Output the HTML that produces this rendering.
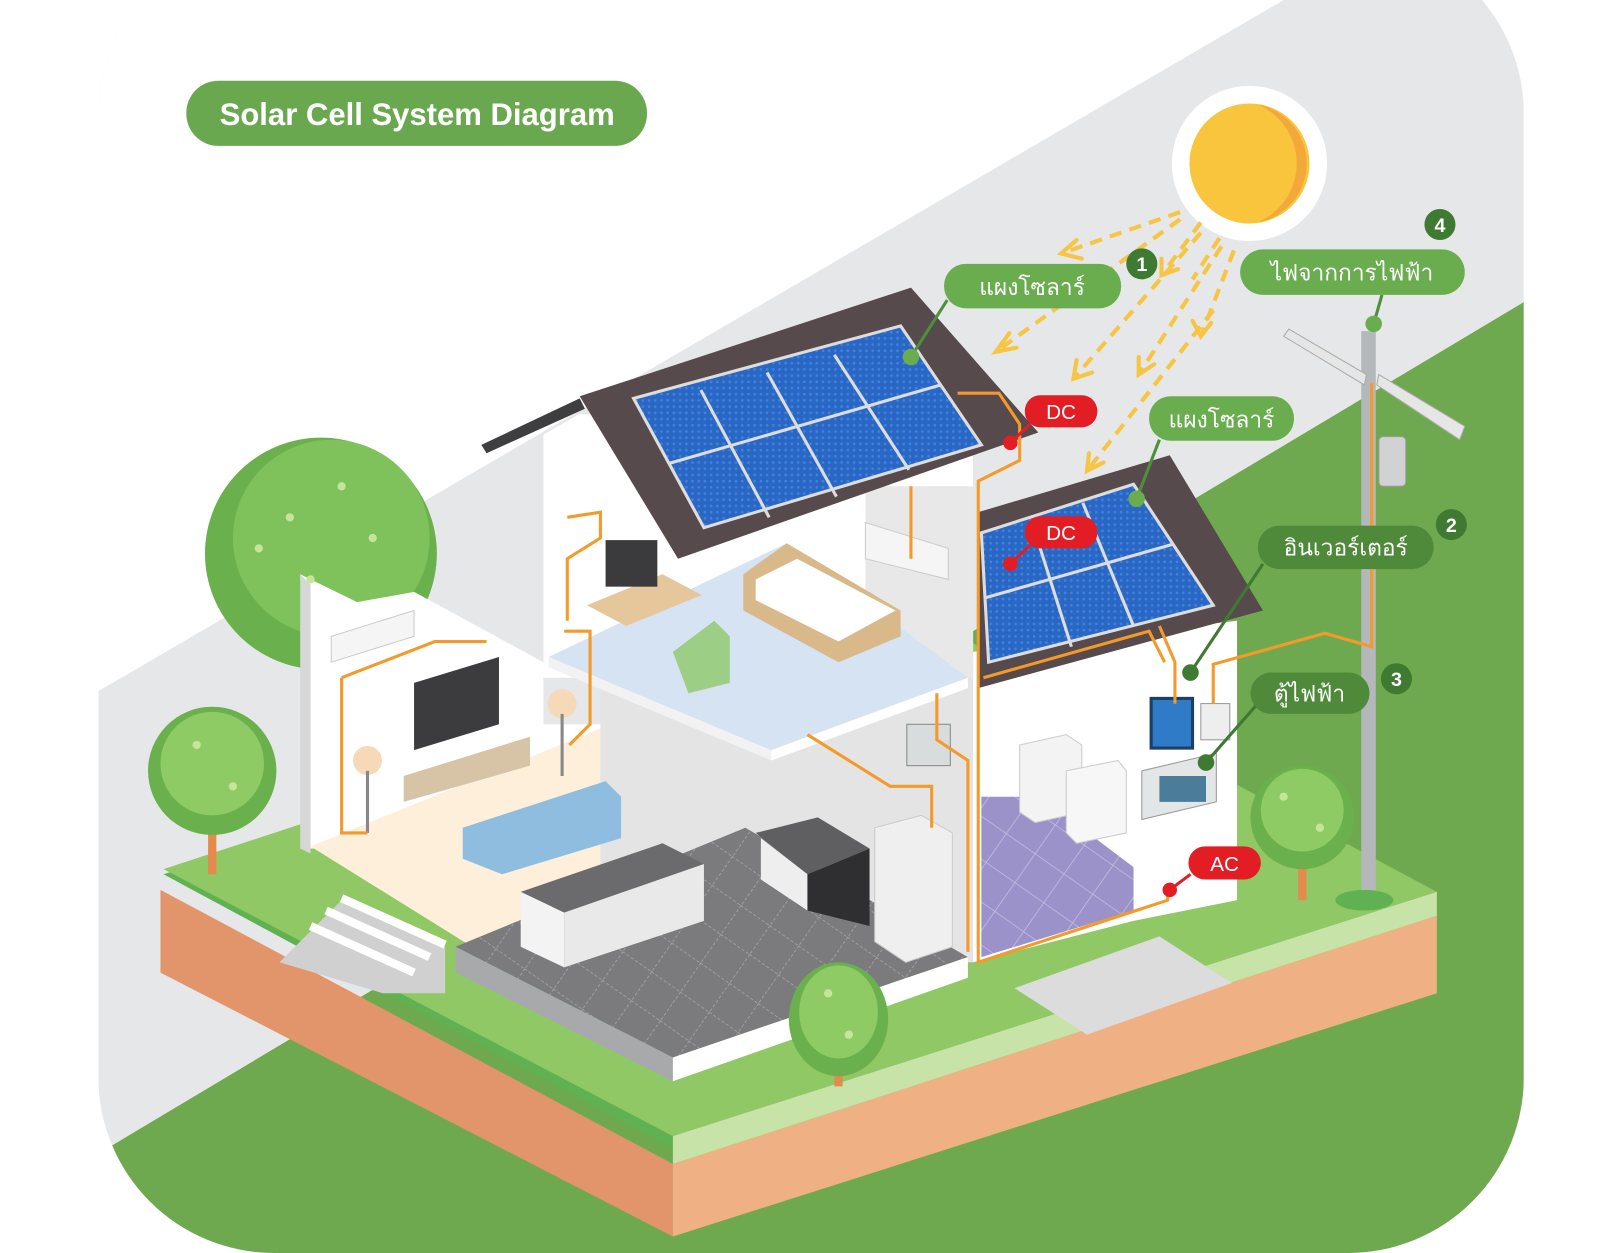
<!DOCTYPE html>
<html><head><meta charset="utf-8"><style>
html,body{margin:0;padding:0;background:#fff}
svg{display:block}
text{font-family:"Liberation Sans","DejaVu Sans",sans-serif}
</style></head><body>
<svg width="1618" height="1253" viewBox="0 0 1563 1211" preserveAspectRatio="none" xmlns="http://www.w3.org/2000/svg">
<defs>
<clipPath id="bg"><rect x="95" y="-60" width="1377" height="1271" rx="170"/></clipPath>
<pattern id="tileK" width="34" height="34" patternUnits="userSpaceOnUse" patternTransform="rotate(35)"><rect width="34" height="34" fill="#7b7b7d"/><path d="M0 0H34M0 0V34" stroke="#aaa" stroke-width="1.5" stroke-dasharray="3 2"/></pattern>
<pattern id="tileP" width="34" height="34" patternUnits="userSpaceOnUse" patternTransform="rotate(35)"><rect width="34" height="34" fill="#9b92c9"/><path d="M0 0H34M0 0V34" stroke="#c4bfe2" stroke-width="1.5"/></pattern>
<pattern id="cell" width="6" height="6" patternUnits="userSpaceOnUse"><rect width="6" height="6" fill="#2a67c4"/><circle cx="3" cy="3" r="1.3" fill="#3f84dc"/></pattern>
</defs>
<g clip-path="url(#bg)">
<rect x="95" y="-60" width="1377" height="1271" fill="#e6e7e8"/>
<polygon points="0,-60 1240,-60 1240,0 95,668 0,668" fill="#fff"/>
<polygon points="95,1115 1472,292 1472,1211 95,1211" fill="#6fa94f"/>
</g>
<!-- soil -->
<polygon points="155,860 650,1125 650,1195 155,940" fill="#e2956a"/>
<polygon points="650,1125 1388,885 1388,960 650,1195" fill="#efb183"/>
<!-- top ground -->
<polygon points="158,845 896,605 1388,870 650,1110" fill="#5fb152"/>
<polygon points="158,840 896,598 1388,862 650,1098" fill="#8fc865"/>
<polygon points="650,1098 1388,862 1388,885 650,1125" fill="#c7e3a8"/>
<!-- path at right -->
<polygon points="980,955 1120,905 1190,950 1050,1000" fill="#dcdcdc"/>
<!-- big tree left -->
<circle cx="310" cy="535" r="112" fill="#6ab04c"/><circle cx="320" cy="520" r="95" fill="#7fc15a"/>
<!-- house: living room -->
<polygon points="290,555 345,582 400,572 525,640 525,700 590,700 590,820 300,820" fill="#fff"/>
<polygon points="290,555 290,820 300,825 300,565" fill="#d7d7d7"/>
<polygon points="300,818 590,700 760,800 480,930" fill="#fdefd9"/>
<!-- steps -->
<polygon points="270,930 330,870 430,915 430,960 370,960" fill="#d0d0d0"/>
<path d="M300,895 L400,940 M315,880 L415,925 M330,868 L430,913" stroke="#fff" stroke-width="8"/>
<!-- kitchen -->
<polygon points="580,655 940,655 940,930 580,930" fill="#e4e4e4"/>
<polygon points="440,915 720,800 935,925 650,1022" fill="url(#tileK)"/>
<polygon points="440,915 650,1022 650,1045 440,940" fill="#a7a9ab"/>
<polygon points="650,1022 935,925 935,945 650,1045" fill="#fff"/>
<!-- upper floor / bedroom -->
<polygon points="525,420 560,400 940,430 940,655 525,655" fill="#fff"/>
<polygon points="836,470 940,470 940,655 836,655" fill="#e8e8e8"/>
<polygon points="530,635 760,525 935,655 745,725" fill="#d6e3f2"/>
<polygon points="530,635 745,725 745,735 530,645" fill="#f2f2f2"/>
<polygon points="745,725 935,655 935,665 745,735" fill="#fff"/>
<!-- bed -->
<polygon points="718,555 760,525 870,590 870,615 810,640 718,590" fill="#d9b98a"/>
<polygon points="730,560 770,540 865,590 810,620 730,580" fill="#fff"/>
<!-- desk, monitor, chair -->
<polygon points="567,585 640,555 678,575 605,605" fill="#e6c79b"/>
<rect x="585" y="522" width="50" height="45" fill="#3b3b3d"/>
<polygon points="650,630 690,600 705,615 705,660 665,670" fill="#9ccf85"/>
<!-- AC units -->
<polygon points="836,505 916,530 916,560 836,540" fill="#f5f5f5" stroke="#ccc"/>
<polygon points="320,615 400,590 400,615 320,640" fill="#f5f5f5" stroke="#ccc"/>
<!-- TV, cabinet, sofa, lamps -->
<polygon points="400,660 482,635 482,700 400,725" fill="#3c3c3e"/>
<polygon points="390,750 512,712 512,740 390,775" fill="#d7c3a6"/>
<polygon points="447,800 585,755 600,770 600,810 485,845 447,830" fill="#8fbde0"/>
<circle cx="355" cy="735" r="14" fill="#f6d9b6"/><line x1="355" y1="745" x2="355" y2="805" stroke="#888" stroke-width="3"/>
<circle cx="543" cy="680" r="14" fill="#f6d9b6"/><line x1="543" y1="690" x2="543" y2="750" stroke="#888" stroke-width="3"/>
<!-- kitchen counter -->
<polygon points="503,862 640,815 680,835 545,882" fill="#6b6b6d"/>
<polygon points="503,862 545,882 545,935 503,915" fill="#f3f3f3"/>
<polygon points="545,882 680,835 680,890 545,935" fill="#e9e9e9"/>
<polygon points="730,805 790,790 840,820 780,845" fill="#5f5f61"/>
<polygon points="735,810 780,845 780,880 735,850" fill="#eee"/>
<polygon points="780,845 840,820 840,895 780,880" fill="#2f2f31"/>
<polygon points="845,800 890,788 920,805 920,915 875,930 845,910" fill="#efefef" stroke="#ccc"/>
<rect x="876" y="700" width="42" height="40" fill="#d9dcdc" stroke="#888"/>
<!-- roof 1 -->
<polygon points="465,430 560,385 565,395 470,438" fill="#3e3e40"/>
<polygon points="560,383 880,278 1003,418 655,540" fill="#574a4c"/>
<polygon points="612,385 870,315 948,430 680,510" fill="url(#cell)" stroke="#ddd" stroke-width="3"/>
<path d="M646,448 L909,372 M677,377 L743,500 M741,360 L808,480 M806,343 L878,454" stroke="#ddd" stroke-width="3"/>
<!-- right wing -->
<polygon points="940,630 1195,600 1195,870 1095,890 940,930" fill="#fff"/>
<polygon points="948,770 1005,770 1095,838 1095,880 948,925" fill="url(#tileP)"/>
<polygon points="985,720 1030,710 1045,720 1045,785 1000,795 985,785" fill="#f3f3f3" stroke="#ccc"/>
<polygon points="1030,745 1080,735 1088,745 1088,805 1040,815 1030,805" fill="#f7f7f7" stroke="#ccc"/>
<polygon points="945,495 1130,440 1220,590 945,665" fill="#574a4c"/>
<polygon points="948,515 1095,468 1172,585 955,640" fill="url(#cell)" stroke="#ddd" stroke-width="3"/>
<path d="M951,578 L1133,526 M996,502 L1035,625 M1046,486 L1095,605" stroke="#ddd" stroke-width="3"/>
<!-- inverter & panel -->
<rect x="1112" y="675" width="40" height="48" fill="#2f7bc8" stroke="#1d3f66" stroke-width="3"/>
<rect x="1160" y="680" width="28" height="35" fill="#eee" stroke="#999"/>
<polygon points="1103,745 1175,728 1175,775 1103,792" fill="#e3e6e6" stroke="#999"/>
<rect x="1120" y="750" width="45" height="25" fill="#4b7c99"/>
<!-- trees -->
<g>
<line x1="205" y1="790" x2="205" y2="845" stroke="#e58a4d" stroke-width="8"/>
<circle cx="205" cy="745" r="62" fill="#6ab04c"/><circle cx="205" cy="738" r="50" fill="#8fcb64"/>
<line x1="1258" y1="820" x2="1258" y2="870" stroke="#e58a4d" stroke-width="8"/>
<circle cx="1258" cy="790" r="50" fill="#6ab04c"/><circle cx="1258" cy="783" r="40" fill="#8fcb64"/>
<line x1="810" y1="1010" x2="810" y2="1050" stroke="#e58a4d" stroke-width="8"/>
<ellipse cx="810" cy="985" rx="48" ry="55" fill="#6ab04c"/><ellipse cx="810" cy="978" rx="38" ry="45" fill="#8fcb64"/>
</g>
<g fill="#c7e59a"><circle cx="280" cy="500" r="4"/><circle cx="330" cy="470" r="4"/><circle cx="360" cy="520" r="4"/><circle cx="300" cy="560" r="4"/><circle cx="250" cy="530" r="4"/><circle cx="190" cy="720" r="4"/><circle cx="225" cy="760" r="4"/><circle cx="1240" cy="770" r="4"/><circle cx="1275" cy="800" r="4"/><circle cx="800" cy="960" r="4"/><circle cx="820" cy="1000" r="4"/></g>
<!-- utility pole -->
<rect x="1315" y="320" width="14" height="550" fill="#b5b8ba"/>
<polygon points="1240,325 1245,318 1320,362 1318,372" fill="#e6e6e6" stroke="#aaa"/>
<polygon points="1330,372 1332,362 1415,412 1410,425" fill="#e6e6e6" stroke="#aaa"/>
<rect x="1332" y="422" width="26" height="48" rx="4" fill="#d0d2d3" stroke="#999"/>
<ellipse cx="1318" cy="870" rx="28" ry="10" fill="#5fb152"/>
<!-- wires -->
<g fill="none" stroke="#f39a2b" stroke-width="3">
<path d="M925,380 L965,380 L985,410 L985,445 L945,465 L945,930 L1128,870 L1128,860"/>
<path d="M1120,605 L1135,640 L1135,680"/>
<path d="M950,655 L1110,610 L1125,640"/>
<path d="M1325,370 L1325,625 L1280,612 L1172,642 L1172,680"/>
<path d="M880,470 L880,540 M780,710 L860,760 L900,760 L900,800"/>
<path d="M330,655 L330,805 L355,805 M330,655 L420,620 L470,620 M545,610 L570,610 L570,700 L550,720"/>
<path d="M905,670 L905,715 L935,735 L935,920"/>
<path d="M548,500 L580,495 L580,520 L548,540 L548,600"/>
</g>
<!-- sun -->
<circle cx="1207" cy="158" r="75" fill="#fff"/>
<circle cx="1207" cy="158" r="58" fill="#f8c53c"/>
<path d="M1215,101 A58,58 0 0 1 1215,215 A62,62 0 0 0 1215,101Z" fill="#f3a83a"/>
<!-- rays -->
<g stroke="#f7c544" stroke-width="4" stroke-dasharray="12 8" fill="none">
<path d="M1140,205 L1025,245"/><path d="M1140,212 L962,340"/><path d="M1160,215 L1122,266"/><path d="M1160,225 L1037,366"/><path d="M1178,230 L1152,270"/><path d="M1180,238 L1100,362"/><path d="M1192,242 L1160,325"/><path d="M1172,300 L1050,455"/>
</g>
<g stroke="#f7c544" stroke-width="4" fill="none" stroke-linecap="round">
<path d="M1040,232 L1025,245 L1045,250"/><path d="M975,322 L962,340 L982,336"/><path d="M1122,250 L1122,266 L1138,260"/><path d="M1040,348 L1037,366 L1055,360"/><path d="M1100,345 L1100,362 L1115,352"/><path d="M1152,310 L1160,325 L1170,312"/><path d="M1052,438 L1050,455 L1066,447"/>
</g>
<!-- title -->
<rect x="180" y="78" width="445" height="63" rx="31" fill="#6aa84f"/>
<text x="403" y="121" font-size="30" font-weight="bold" fill="#fff" text-anchor="middle">Solar Cell System Diagram</text>
<!-- labels -->
<g stroke-width="3" fill="none">
<path d="M915,290 L880,345" stroke="#4d8f3b"/>
<path d="M1335,285 L1327,313" stroke="#4d8f3b"/>
<path d="M1120,425 L1098,482" stroke="#4d8f3b"/>
<path d="M1220,545 L1150,650" stroke="#3f7a33"/>
<path d="M1215,680 L1165,737" stroke="#3f7a33"/>
<path d="M995,410 L976,428" stroke="#e31d24"/><path d="M995,527 L976,545" stroke="#e31d24"/><path d="M1150,845 L1130,860" stroke="#e31d24"/>
</g>
<g fill="#6aad4f"><circle cx="880" cy="345" r="8"/><circle cx="1327" cy="313" r="8"/><circle cx="1098" cy="482" r="8"/></g>
<g fill="#3f7a33"><circle cx="1150" cy="650" r="8"/><circle cx="1165" cy="737" r="8"/></g>
<g fill="#e31d24"><circle cx="976" cy="428" r="7"/><circle cx="976" cy="545" r="7"/><circle cx="1130" cy="860" r="7"/></g>
<rect x="912" y="255" width="171" height="43" rx="21" fill="#6aad4f"/>
<text x="997" y="285" font-size="22" fill="#fff" text-anchor="middle">แผงโซลาร์</text>
<rect x="1198" y="241" width="217" height="44" rx="22" fill="#6aad4f"/>
<text x="1306" y="271" font-size="22" fill="#fff" text-anchor="middle">ไฟจากการไฟฟ้า</text>
<rect x="1110" y="383" width="140" height="43" rx="21" fill="#6aad4f"/>
<text x="1180" y="413" font-size="22" fill="#fff" text-anchor="middle">แผงโซลาร์</text>
<rect x="1215" y="508" width="170" height="42" rx="21" fill="#4e8a3a"/>
<text x="1300" y="537" font-size="22" fill="#fff" text-anchor="middle">อินเวอร์เตอร์</text>
<rect x="1208" y="650" width="115" height="40" rx="20" fill="#4e8a3a"/>
<text x="1265" y="678" font-size="22" fill="#fff" text-anchor="middle">ตู้ไฟฟ้า</text>
<g fill="#3f7a33"><circle cx="1103" cy="255" r="15"/><circle cx="1391" cy="217" r="15"/><circle cx="1402" cy="507" r="15"/><circle cx="1349" cy="656" r="15"/></g>
<g fill="#fff" font-size="19" font-weight="bold" text-anchor="middle"><text x="1103" y="262">1</text><text x="1391" y="224">4</text><text x="1402" y="514">2</text><text x="1349" y="663">3</text></g>
<rect x="990" y="382" width="70" height="31" rx="15" fill="#e31d24"/>
<text x="1025" y="405" font-size="20" fill="#fff" text-anchor="middle">DC</text>
<rect x="990" y="499" width="70" height="31" rx="15" fill="#e31d24"/>
<text x="1025" y="522" font-size="20" fill="#fff" text-anchor="middle">DC</text>
<rect x="1148" y="818" width="70" height="32" rx="16" fill="#e31d24"/>
<text x="1183" y="842" font-size="20" fill="#fff" text-anchor="middle">AC</text>
</svg>
</body></html>
